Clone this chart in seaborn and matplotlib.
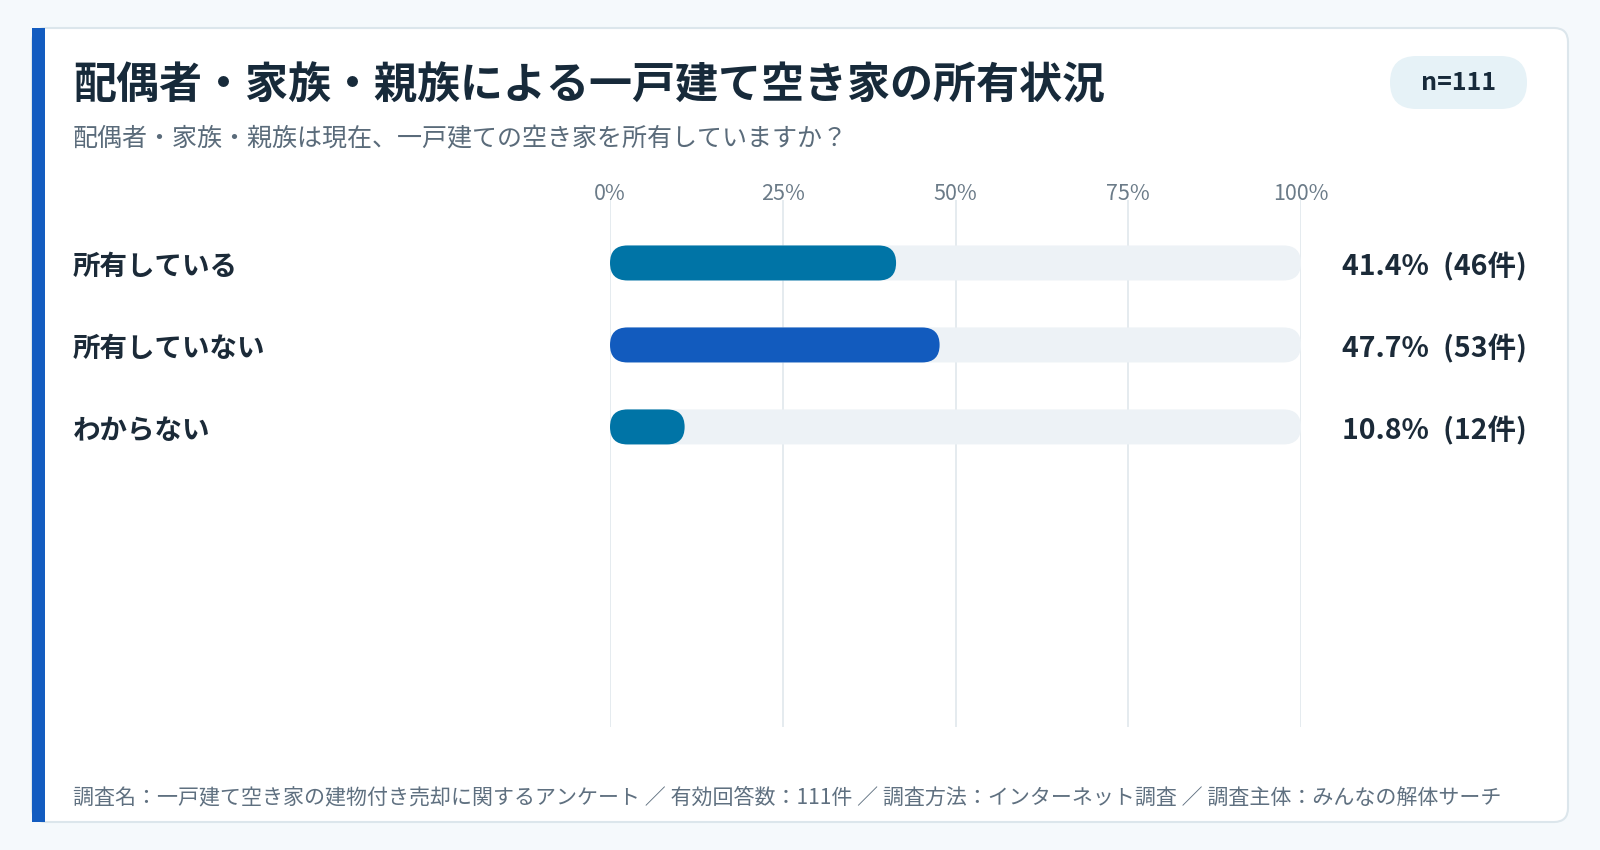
import matplotlib
matplotlib.use("Agg")
import matplotlib.pyplot as plt
import matplotlib.transforms as mtransforms
from matplotlib.patches import FancyBboxPatch, Rectangle
import seaborn as sns

# data
categories = ["所有している", "所有していない", "わからない"]
percents = [41.4, 47.7, 10.8]
counts = [46, 53, 12]
bar_colors = ["#0074A6", "#125BBE", "#0074A6"]
ticks = [0, 25, 50, 75, 100]
tick_labels = ["0%", "25%", "50%", "75%", "100%"]
title = "配偶者・家族・親族による一戸建て空き家の所有状況"
subtitle = "配偶者・家族・親族は現在、一戸建ての空き家を所有していますか？"
badge = "n=111"
footer = ("調査名：一戸建て空き家の建物付き売却に関するアンケート ／ 有効回答数：111件 ／ "
          "調査方法：インターネット調査 ／ 調査主体：みんなの解体サーチ")

sns.set_theme(style="white")
plt.rcParams['font.family'] = ['Noto Sans CJK JP', 'DejaVu Sans']

W, H = 1600, 850
fig = plt.figure(figsize=(W / 100, H / 100), dpi=100)
fig.patch.set_facecolor("#F5F9FC")

# card + accent stripe (in inches)
inch = fig.dpi_scale_trans
card = FancyBboxPatch((0.32, 0.28), 15.36, 7.94, boxstyle="round,pad=0,rounding_size=0.14",
                      transform=inch, fc="white", ec="#DCE6EC", lw=1.5, zorder=0)
fig.patches.append(card)
fig.patches.append(Rectangle((0.32, 0.28), 0.13, 7.94, transform=inch, fc="#135CC0",
                             ec="none", zorder=1))

# badge
pill = FancyBboxPatch((13.90, 7.41), 1.37, 0.53, boxstyle="round,pad=0,rounding_size=0.265",
                      transform=inch, fc="#E6F2F7", ec="none", zorder=1)
fig.patches.append(pill)
fig.text(14.585, 7.675, badge, transform=inch, ha="center", va="center",
         fontsize=18, fontweight="bold", color="#172A3A")

# titles
fig.text(73 / W, 1 - 86 / H, title, ha="left", va="center", fontsize=31,
         fontweight="bold", color="#172A3A")
fig.text(73 / W, 1 - 139 / H, subtitle, ha="left", va="center", fontsize=18,
         color="#5A6B7A")
fig.text(73 / W, 1 - 797 / H, footer, ha="left", va="center", fontsize=15.1,
         color="#5F7080")

# chart axes
ax = fig.add_axes([610 / W, 1 - 727 / H, 691 / W, 527 / H])
ax.set_zorder(3)
ax.set_facecolor("none")

sns.barplot(x=[100] * len(categories), y=categories, color="#EDF2F6", width=0.427,
            ax=ax, saturation=1, zorder=2)
sns.barplot(x=percents, y=categories, hue=categories, palette=bar_colors, width=0.427,
            ax=ax, saturation=1, legend=False, zorder=3)

ax.set_xlim(0, 100)
ax.set_ylim(5.66, -0.768)
ax.set_xticks(ticks)
ax.set_xticklabels(tick_labels)
ax.xaxis.tick_top()
ax.tick_params(axis="x", length=0, pad=-3.5, labelsize=15.5, labelcolor="#6B7B88")
ax.set_yticks([])
ax.set_xlabel("")
ax.set_ylabel("")
for s in ax.spines.values():
    s.set_visible(False)
ax.grid(axis="x", color="#E3E9EE", lw=1.3)
ax.set_axisbelow(True)

# round the bars
sx = ax.bbox.width / 100
sy = ax.bbox.height / abs(5.66 + 0.768)
r_px = 0.427 * sy / 2
for p in list(ax.patches):
    x, y, w, h = p.get_x(), p.get_y(), p.get_width(), p.get_height()
    fb = FancyBboxPatch((x, y), w, h, boxstyle=f"round,pad=0,rounding_size={r_px / sx}",
                        mutation_aspect=sx / sy, fc=p.get_facecolor(), ec="none",
                        zorder=p.get_zorder())
    p.remove()
    ax.add_patch(fb)

# labels
lab_tr = mtransforms.blended_transform_factory(fig.transFigure, ax.transData)
lab_tr = mtransforms.offset_copy(lab_tr, fig=fig, y=-4, units="dots")
for i, (cat, pct, n) in enumerate(zip(categories, percents, counts)):
    ax.text(73 / W, i, cat, transform=lab_tr, ha="left", va="center", fontsize=19.8,
            fontweight="bold", color="#1B2A38")
    ax.text(1527 / W, i, f"{pct:.1f}%\u2002({n}件)", transform=lab_tr, ha="right",
            va="center", fontsize=20.5, fontweight="bold", color="#1B2A38")

fig.savefig("out.png", dpi=100, facecolor=fig.get_facecolor())
